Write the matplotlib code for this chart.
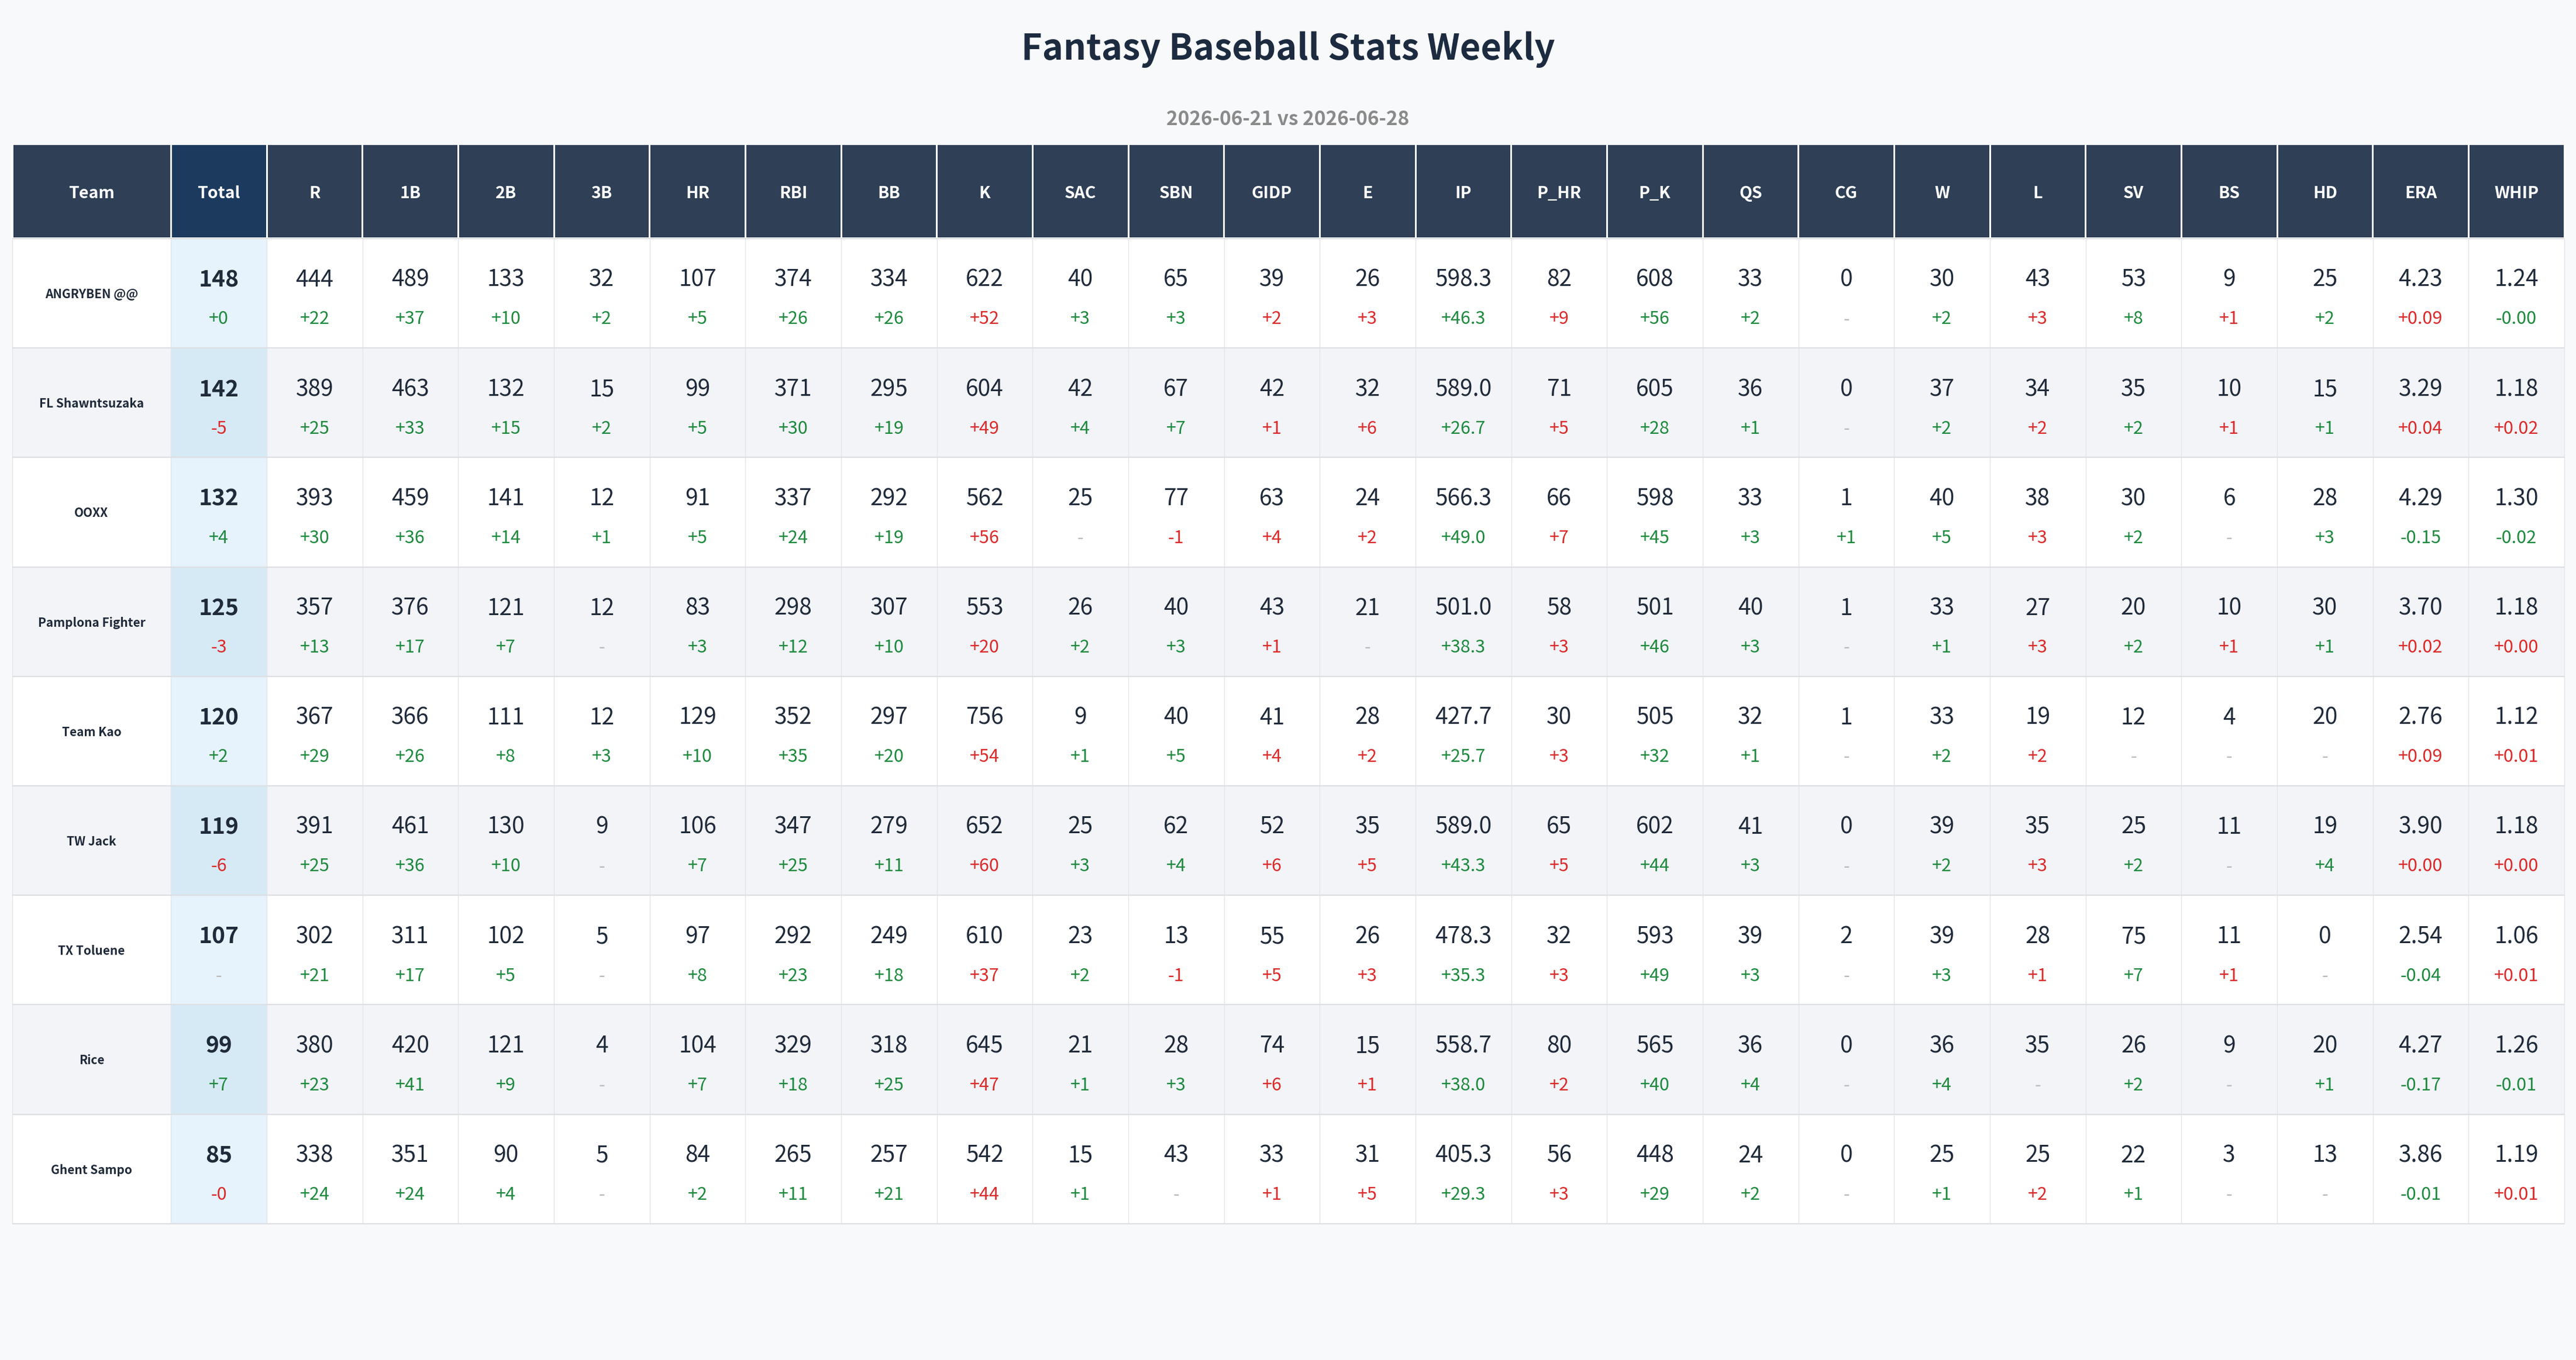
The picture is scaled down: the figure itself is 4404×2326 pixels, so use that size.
import matplotlib
matplotlib.use("Agg")
import matplotlib.pyplot as plt
from matplotlib.patches import Rectangle

plt.rcParams['font.family'] = ['Noto Sans CJK SC', 'DejaVu Sans']

# ---------------- data ----------------
title = "Fantasy Baseball Stats Weekly"
subtitle = "2026-06-21 vs 2026-06-28"

teams = ["ANGRYBEN @@", "FL Shawntsuzaka", "OOXX", "Pamplona Fighter", "Team Kao",
         "TW Jack", "TX Toluene", "Rice", "Ghent Sampo"]

total = [148, 142, 132, 125, 120, 119, 107, 99, 85]
total_chg = ["+0", "-5", "+4", "-3", "+2", "-6", "-", "+7", "-0"]

R = [444, 389, 393, 357, 367, 391, 302, 380, 338]
R_chg = ["+22", "+25", "+30", "+13", "+29", "+25", "+21", "+23", "+24"]
B1 = [489, 463, 459, 376, 366, 461, 311, 420, 351]
B1_chg = ["+37", "+33", "+36", "+17", "+26", "+36", "+17", "+41", "+24"]
B2 = [133, 132, 141, 121, 111, 130, 102, 121, 90]
B2_chg = ["+10", "+15", "+14", "+7", "+8", "+10", "+5", "+9", "+4"]
B3 = [32, 15, 12, 12, 12, 9, 5, 4, 5]
B3_chg = ["+2", "+2", "+1", "-", "+3", "-", "-", "-", "-"]
HR = [107, 99, 91, 83, 129, 106, 97, 104, 84]
HR_chg = ["+5", "+5", "+5", "+3", "+10", "+7", "+8", "+7", "+2"]
RBI = [374, 371, 337, 298, 352, 347, 292, 329, 265]
RBI_chg = ["+26", "+30", "+24", "+12", "+35", "+25", "+23", "+18", "+11"]
BB = [334, 295, 292, 307, 297, 279, 249, 318, 257]
BB_chg = ["+26", "+19", "+19", "+10", "+20", "+11", "+18", "+25", "+21"]
K = [622, 604, 562, 553, 756, 652, 610, 645, 542]
K_chg = ["+52", "+49", "+56", "+20", "+54", "+60", "+37", "+47", "+44"]
SAC = [40, 42, 25, 26, 9, 25, 23, 21, 15]
SAC_chg = ["+3", "+4", "-", "+2", "+1", "+3", "+2", "+1", "+1"]
SBN = [65, 67, 77, 40, 40, 62, 13, 28, 43]
SBN_chg = ["+3", "+7", "-1", "+3", "+5", "+4", "-1", "+3", "-"]
GIDP = [39, 42, 63, 43, 41, 52, 55, 74, 33]
GIDP_chg = ["+2", "+1", "+4", "+1", "+4", "+6", "+5", "+6", "+1"]
E = [26, 32, 24, 21, 28, 35, 26, 15, 31]
E_chg = ["+3", "+6", "+2", "-", "+2", "+5", "+3", "+1", "+5"]
IP = [598.3, 589.0, 566.3, 501.0, 427.7, 589.0, 478.3, 558.7, 405.3]
IP_chg = ["+46.3", "+26.7", "+49.0", "+38.3", "+25.7", "+43.3", "+35.3", "+38.0", "+29.3"]
P_HR = [82, 71, 66, 58, 30, 65, 32, 80, 56]
P_HR_chg = ["+9", "+5", "+7", "+3", "+3", "+5", "+3", "+2", "+3"]
P_K = [608, 605, 598, 501, 505, 602, 593, 565, 448]
P_K_chg = ["+56", "+28", "+45", "+46", "+32", "+44", "+49", "+40", "+29"]
QS = [33, 36, 33, 40, 32, 41, 39, 36, 24]
QS_chg = ["+2", "+1", "+3", "+3", "+1", "+3", "+3", "+4", "+2"]
CG = [0, 0, 1, 1, 1, 0, 2, 0, 0]
CG_chg = ["-", "-", "+1", "-", "-", "-", "-", "-", "-"]
W = [30, 37, 40, 33, 33, 39, 39, 36, 25]
W_chg = ["+2", "+2", "+5", "+1", "+2", "+2", "+3", "+4", "+1"]
L = [43, 34, 38, 27, 19, 35, 28, 35, 25]
L_chg = ["+3", "+2", "+3", "+3", "+2", "+3", "+1", "-", "+2"]
SV = [53, 35, 30, 20, 12, 25, 75, 26, 22]
SV_chg = ["+8", "+2", "+2", "+2", "-", "+2", "+7", "+2", "+1"]
BS = [9, 10, 6, 10, 4, 11, 11, 9, 3]
BS_chg = ["+1", "+1", "-", "+1", "-", "-", "+1", "-", "-"]
HD = [25, 15, 28, 30, 20, 19, 0, 20, 13]
HD_chg = ["+2", "+1", "+3", "+1", "-", "+4", "-", "+1", "-"]
ERA = [4.23, 3.29, 4.29, 3.70, 2.76, 3.90, 2.54, 4.27, 3.86]
ERA_chg = ["+0.09", "+0.04", "-0.15", "+0.02", "+0.09", "+0.00", "-0.04", "-0.17", "-0.01"]
WHIP = [1.24, 1.18, 1.30, 1.18, 1.12, 1.18, 1.06, 1.26, 1.19]
WHIP_chg = ["-0.00", "+0.02", "-0.02", "+0.00", "+0.01", "+0.00", "+0.01", "-0.01", "+0.01"]

stat_names = ["R", "1B", "2B", "3B", "HR", "RBI", "BB", "K", "SAC", "SBN", "GIDP", "E",
              "IP", "P_HR", "P_K", "QS", "CG", "W", "L", "SV", "BS", "HD", "ERA", "WHIP"]
lower_better = {"K", "GIDP", "E", "P_HR", "L", "BS", "ERA", "WHIP"}
decimals = {"IP": 1, "ERA": 2, "WHIP": 2}

stat_vals = [R, B1, B2, B3, HR, RBI, BB, K, SAC, SBN, GIDP, E,
             IP, P_HR, P_K, QS, CG, W, L, SV, BS, HD, ERA, WHIP]
stat_chgs = [R_chg, B1_chg, B2_chg, B3_chg, HR_chg, RBI_chg, BB_chg, K_chg, SAC_chg,
             SBN_chg, GIDP_chg, E_chg, IP_chg, P_HR_chg, P_K_chg, QS_chg, CG_chg, W_chg,
             L_chg, SV_chg, BS_chg, HD_chg, ERA_chg, WHIP_chg]

# ---------------- style ----------------
W_PX, H_PX, DPI = 4404, 2326, 100
BG = "#f7f9fb"
HEAD = "#2e3f56"
HEAD_TOTAL = "#1c3a5e"
TXT = "#1f2a3a"
GREEN = "#1e8a3e"
RED = "#dc2b2b"
GRAY = "#bbbbbb"
ROW_ALT = "#f2f4f8"
TOT_BG = "#e6f3fc"
TOT_BG_ALT = "#d6eaf5"
GRID = "#e3e5e8"

fig = plt.figure(figsize=(W_PX / DPI, H_PX / DPI), dpi=DPI, facecolor=BG)
ax = fig.add_axes([0, 0, 1, 1])
ax.set_xlim(0, W_PX)
ax.set_ylim(H_PX, 0)
ax.axis("off")
ax.set_facecolor(BG)

left = 21
team_w = 271
total_w = 164
right = 4384
n_stat = len(stat_names)
stat_w = (right - left - team_w - total_w) / n_stat
head_top, head_h = 248, 160
row_h = 187.2
body_top = head_top + head_h

col_x = [left, left + team_w]
for i in range(n_stat + 1):
    col_x.append(left + team_w + total_w + i * stat_w)


def cell_edges(c):
    return col_x[c], col_x[c + 1]

# title
ax.text(W_PX / 2, 84, title, ha="center", va="center", fontsize=44, fontweight="bold", color="#1c2b3f")
ax.text(W_PX / 2, 204, subtitle, ha="center", va="center", fontsize=24, fontweight="bold", color="#8a8a8a")

# header
headers = ["Team", "Total"] + stat_names
ax.add_patch(Rectangle((left - 2, head_top - 2), right - left + 4, head_h + 4, facecolor="white", edgecolor="none", zorder=1))
for c, h in enumerate(headers):
    x0, x1 = cell_edges(c)
    ax.add_patch(Rectangle((x0 + 1.5, head_top), x1 - x0 - 3, head_h - 2,
                           facecolor=HEAD_TOTAL if c == 1 else HEAD, edgecolor="none", zorder=2))
    ax.text((x0 + x1) / 2, head_top + head_h / 2 + 3, h, ha="center", va="center",
            fontsize=20.5, fontweight="bold", color="white", zorder=3)


def chg_color(s, name):
    if s.strip() == "-":
        return GRAY
    up = s.startswith("+")
    good = (not up) if name in lower_better else up
    return GREEN if good else RED


def fmt(v, name):
    d = decimals.get(name, 0)
    return f"{v:.{d}f}" if d else f"{int(v)}"

for r, team in enumerate(teams):
    y0 = body_top + r * row_h
    alt = r % 2 == 1
    base = ROW_ALT if alt else "white"
    ax.add_patch(Rectangle((left, y0), right - left, row_h, facecolor=base, edgecolor="none", zorder=1))
    x0, x1 = cell_edges(1)
    ax.add_patch(Rectangle((x0, y0), x1 - x0, row_h, facecolor=TOT_BG_ALT if alt else TOT_BG,
                           edgecolor="none", zorder=1.5))
    ym, yd = y0 + 71, y0 + 138
    # team
    x0, x1 = cell_edges(0)
    ax.text((x0 + x1) / 2, y0 + row_h / 2 + 2, team, ha="center", va="center", fontsize=15,
            fontweight="bold", color=TXT, zorder=3)
    # total
    x0, x1 = cell_edges(1)
    ax.text((x0 + x1) / 2, ym, str(total[r]), ha="center", va="center", fontsize=28,
            fontweight="bold", color=TXT, zorder=3)
    ax.text((x0 + x1) / 2, yd, total_chg[r], ha="center", va="center", fontsize=22,
            color=chg_color(total_chg[r], "Total"), zorder=3)
    for j, name in enumerate(stat_names):
        x0, x1 = cell_edges(j + 2)
        xc = (x0 + x1) / 2
        ax.text(xc, ym, fmt(stat_vals[j][r], name), ha="center", va="center", fontsize=28,
                color=TXT, zorder=3)
        ch = stat_chgs[j][r]
        ax.text(xc, yd, ch, ha="center", va="center", fontsize=22,
                color=chg_color(ch, name), zorder=3)

# grid lines
body_bot = body_top + len(teams) * row_h
for x in col_x:
    ax.plot([x, x], [body_top, body_bot], color=GRID, lw=1.0, zorder=2, solid_capstyle="butt")
for r in range(len(teams) + 1):
    y = body_top + r * row_h
    ax.plot([left, right], [y, y], color="#dddfe3", lw=1.6, zorder=2.2, solid_capstyle="butt")

fig.savefig("out.png", dpi=DPI, facecolor=BG)
